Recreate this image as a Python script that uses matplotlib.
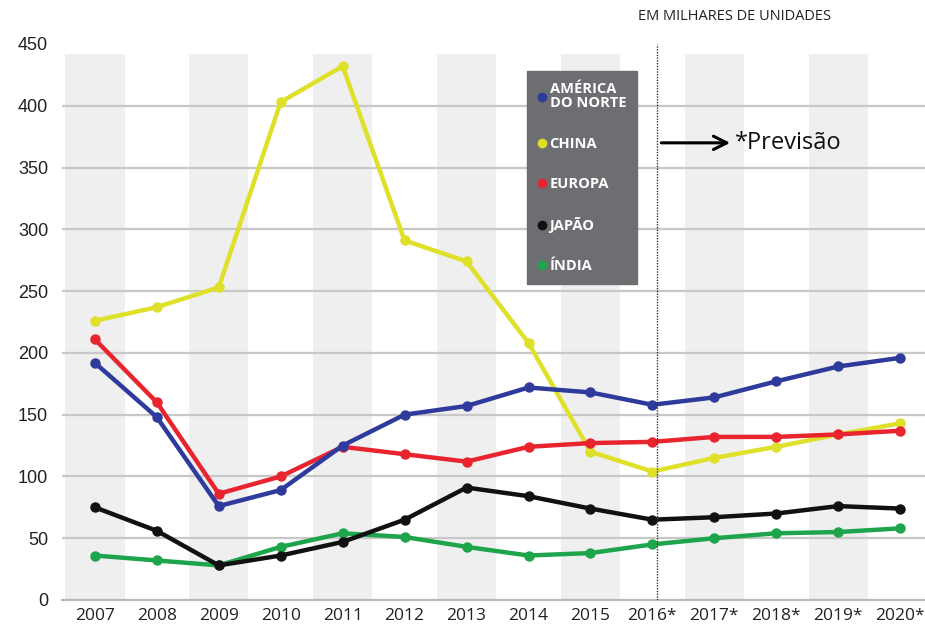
import matplotlib
matplotlib.use("Agg")
import matplotlib.pyplot as plt
from matplotlib.lines import Line2D

years = ["2007", "2008", "2009", "2010", "2011", "2012", "2013", "2014",
         "2015", "2016*", "2017*", "2018*", "2019*", "2020*"]
america_norte = [192, 148, 76, 89, 125, 150, 157, 172, 168, 158, 164, 177, 189, 196]
china = [226, 237, 253, 403, 432, 291, 274, 208, 120, 104, 115, 124, 134, 143]
europa = [211, 160, 86, 100, 124, 118, 112, 124, 127, 128, 132, 132, 134, 137]
japao = [75, 56, 28, 36, 47, 65, 91, 84, 74, 65, 67, 70, 76, 74]
india = [36, 32, 28, 43, 54, 51, 43, 36, 38, 45, 50, 54, 55, 58]
y_ticks = [0, 50, 100, 150, 200, 250, 300, 350, 400, 450]

fig = plt.figure(figsize=(9.25, 6.28), dpi=100)
ax = fig.add_axes([62 / 925, 28 / 628, 863 / 925, 556 / 628])

x = list(range(len(years)))
ax.set_xlim(-0.53, 13.4)
ax.set_ylim(0, 450)

# alternating gray bands
for i in x[::2]:
    ax.axvspan(i - 0.48, i + 0.48, ymin=0, ymax=(450 - 8) / 450,
               color="#efeff0", zorder=0, lw=0)

for v in y_ticks[1:-1]:
    ax.axhline(v, color="#c8c8c8", lw=1.6, zorder=1)

for s in ["top", "right", "left"]:
    ax.spines[s].set_visible(False)
ax.spines["bottom"].set_color("#b8b8b8")
ax.spines["bottom"].set_linewidth(1.6)

series = [
    ("CHINA", china, "#dfe02a"),
    ("ÍNDIA", india, "#1ea54c"),
    ("JAPÃO", japao, "#111111"),
    ("EUROPA", europa, "#e8252f"),
    ("AMÉRICA\nDO NORTE", america_norte, "#2f3b9c"),
]
for name, vals, col in series:
    ax.plot(x, vals, color=col, lw=3.2, marker="o", ms=6.5, zorder=3,
            solid_capstyle="round")

# forecast divider
ax.axvline(9.07, color="#333333", lw=1, ls=(0, (1, 1)), zorder=4)
ax.annotate("", xy=(10.3, 370), xytext=(9.1, 370),
            arrowprops=dict(arrowstyle="->", color="black", lw=2.2,
                            mutation_scale=24), zorder=5)
ax.text(10.33, 370, "*Previsão", fontsize=17, family="Open Sans",
        va="center", ha="left", color="#111111")

ax.set_xticks(x)
ax.set_xticklabels(years, fontsize=12.5, family="Open Sans")
ax.set_yticks(y_ticks)
ax.set_yticklabels([str(v) for v in y_ticks], fontsize=13,
                   family="Liberation Sans")
ax.tick_params(axis="both", length=0, pad=6, colors="#222222")
ax.tick_params(axis="y", pad=10)

# legend
order = ["AMÉRICA\nDO NORTE", "CHINA", "EUROPA", "JAPÃO", "ÍNDIA"]
colmap = {n: c for n, _, c in series}
handles = [Line2D([], [], ls="none", marker="o", ms=6, color=colmap[n]) for n in order]
leg = ax.legend(handles, order, loc="upper left",
                bbox_to_anchor=((527 - 62) / 863, (600 - 71) / 556),
                frameon=True, facecolor="#6d6e72", edgecolor="#6d6e72",
                framealpha=1, fancybox=False, handlelength=0.5,
                handletextpad=0.3, labelspacing=1.8, borderpad=0.75,
                borderaxespad=0,
                prop={"family": "Open Sans", "size": 10.5, "weight": "bold"})
for t in leg.get_texts():
    t.set_color("white")
    t.set_linespacing(1.05)
leg.set_zorder(6)

fig.text(638 / 925, 1 - 17 / 628, "EM MILHARES DE UNIDADES", fontsize=10.5,
         family="Open Sans", va="center", ha="left", color="#222222")

fig.savefig("out.png", dpi=100, facecolor="white")
